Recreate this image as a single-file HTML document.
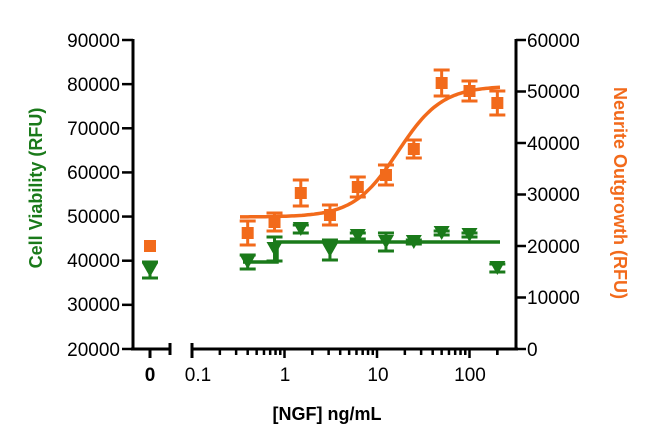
<!DOCTYPE html>
<html><head><meta charset="utf-8"><style>
body{margin:0;background:#fff;}
svg{display:block;font-family:"Liberation Sans",Arial,sans-serif;}
</style></head><body>
<svg id="s" width="650" height="447" viewBox="0 0 650 447">
<g stroke="#000" stroke-width="3" fill="none">
<line x1="133" y1="39" x2="133" y2="350"/>
<line x1="516" y1="39" x2="516" y2="350"/>
<line x1="131" y1="349" x2="170" y2="349"/>
<line x1="192" y1="349" x2="518" y2="349"/>
<line x1="170" y1="343" x2="170" y2="355"/>
<line x1="192" y1="343" x2="192" y2="358"/>
<line x1="150" y1="349" x2="150" y2="358"/>
</g>
<g id="ticks" stroke="#000" stroke-width="2.5"></g>
<g font-size="19" text-anchor="end" fill="#000">
<text x="120" y="47">90000</text><text x="120" y="91">80000</text><text x="120" y="135">70000</text>
<text x="120" y="179">60000</text><text x="120" y="223">50000</text><text x="120" y="267">40000</text>
<text x="120" y="311">30000</text><text x="120" y="356">20000</text>
</g>
<g font-size="19" text-anchor="start" fill="#000">
<text x="527" y="47">60000</text><text x="527" y="98">50000</text><text x="527" y="150">40000</text>
<text x="527" y="201">30000</text><text x="527" y="253">20000</text><text x="527" y="304">10000</text>
<text x="527" y="356">0</text>
</g>
<g font-size="19" text-anchor="middle" fill="#000">
<text x="150" y="381" font-weight="bold">0</text><text x="198" y="381">0.1</text>
<text x="285" y="381">1</text><text x="378" y="381">10</text><text x="470" y="381">100</text>
</g>
<text x="327" y="420" font-size="18" font-weight="bold" text-anchor="middle">[NGF] ng/mL</text>
<text transform="translate(42,188) rotate(-90)" font-size="18" font-weight="bold" fill="#1a7a1a" text-anchor="middle">Cell Viability  (RFU)</text>
<text transform="translate(614,193) rotate(90)" font-size="18" font-weight="bold" fill="#f26a1b" text-anchor="middle">Neurite Outgrowth  (RFU)</text>
<g id="data"></g>
</svg>
<script>
var NS="http://www.w3.org/2000/svg";
function el(p,t,a){var e=document.createElementNS(NS,t);for(var k in a)e.setAttribute(k,a[k]);p.appendChild(e);return e;}
var tk=document.getElementById("ticks");
function lx(v){return 192+92.5*Math.log10(v/0.1);}
for(var d=0.1;d<=100;d*=10){for(var m=1;m<10;m++){var v=d*m;if(v>250)break;var x=lx(v);el(tk,"line",{x1:x,y1:349,x2:x,y2:m==1?358:355});}}
el(tk,"line",{x1:lx(200),y1:349,x2:lx(200),y2:355});
for(var i=0;i<8;i++){var y=40+i*44.14;el(tk,"line",{x1:122,y1:y,x2:133,y2:y});}
for(var i=0;i<7;i++){var y=40+i*51.5;el(tk,"line",{x1:516,y1:y,x2:526,y2:y});}
var g=document.getElementById("data");
var xs=[0.4,0.78,1.5,3.1,6.2,12.5,25,50,100,200];
var oy=[233,222,193,215,187,175,149,83,91,103],oe=[12,9,13,10,10,10,9,13,10,12];
var gy=[262,249,229,250,236,242,242,233,235,268],ge=[7,12,4,10,3,9,2,2,2,4];
var OR="#f26a1b",GR="#1a7a1a";
var p="";for(var x=240;x<=500;x+=2){var y=217-131/(1+Math.exp(-(x-398)/22));p+=(p?"L":"M")+x+","+y.toFixed(1);}
el(g,"path",{d:p,stroke:OR,"stroke-width":3.5,fill:"none"});
el(g,"path",{d:"M243,262L277,262L277,242L500,242",stroke:GR,"stroke-width":3.5,fill:"none"});
function eb(x,y,e,c){el(g,"path",{d:"M"+(x-8)+","+(y-e)+"h16M"+x+","+(y-e)+"V"+(y+e)+"M"+(x-8)+","+(y+e)+"h16",stroke:c,"stroke-width":3,fill:"none"});}
function sq(x,y){el(g,"rect",{x:x-6,y:y-6,width:12,height:12,fill:OR});}
function tri(x,y){el(g,"path",{d:"M"+(x-8)+","+(y-7)+"L"+(x+8)+","+(y-7)+"L"+x+","+(y+7)+"Z",fill:GR});}
for(var i=0;i<10;i++){var x=lx(xs[i]);eb(x,oy[i],oe[i],OR);sq(x,oy[i]);eb(x,gy[i],ge[i],GR);tri(x,gy[i]);}
sq(150,246);eb(150,270,8,GR);tri(150,270);
</script>
</body></html>
